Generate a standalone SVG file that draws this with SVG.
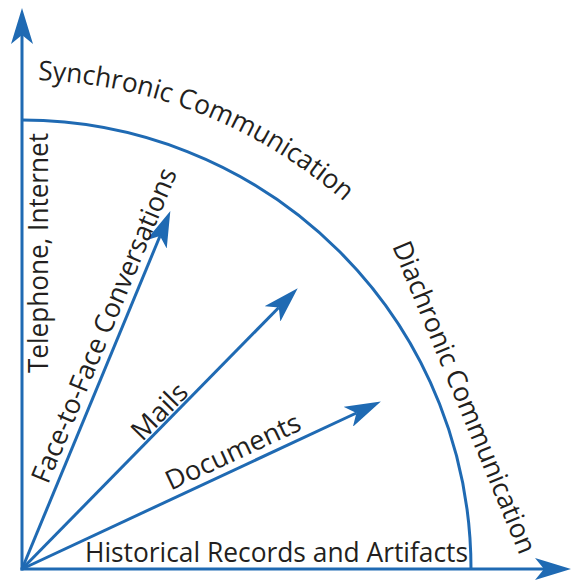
<svg xmlns="http://www.w3.org/2000/svg" width="573" height="581" viewBox="0 0 573 581">
  <style>
    .ln { stroke: #1f6ab3; stroke-width: 3; fill: none; }
    .lbl { font-family: "Open Sans", "Noto Sans", "Liberation Sans", sans-serif; font-size: 27px; fill: #231f20; }
  </style>
  <defs>
    <marker id="head" viewBox="0 0 36 22" refX="9" refY="11" markerWidth="36" markerHeight="22" markerUnits="userSpaceOnUse" orient="auto">
      <path d="M36,11 L0,0 L9,11 L0,22 Z" fill="#1f6ab3"/>
    </marker>
    <path id="syncArc" d="M 38 80 A 489 489 0 0 1 445 325.5"/>
  </defs>

  <!-- axes, boundary arc and rays -->
  <g id="connectors">
    <line id="axis-y" class="ln" x1="22" y1="570.5" x2="22" y2="35" marker-end="url(#head)"/>
    <line id="axis-x" class="ln" x1="20.5" y1="569" x2="544" y2="569" marker-end="url(#head)"/>
    <path id="boundary" class="ln" d="M 22 120 A 449 449 0 0 1 471 569"/>
    <line id="ray-face" class="ln" x1="22" y1="569" x2="160" y2="236" marker-end="url(#head)"/>
    <line id="ray-mails" class="ln" x1="22" y1="569" x2="278.8" y2="307.5" marker-end="url(#head)"/>
    <line id="ray-docs" class="ln" x1="22" y1="569" x2="356.4" y2="413" marker-end="url(#head)"/>
  </g>

  <g id="synchronic">
    <text class="lbl" textLength="336" lengthAdjust="spacingAndGlyphs"><textPath href="#syncArc">Synchronic Communication</textPath></text>
  </g>
  <g id="diachronic">
    <text class="lbl" transform="translate(392 246) rotate(67.6)" textLength="335" lengthAdjust="spacingAndGlyphs">Diachronic Communication</text>
  </g>
  <g id="telephone">
    <text class="lbl" transform="translate(48 373) rotate(-90)" textLength="240" lengthAdjust="spacingAndGlyphs">Telephone, Internet</text>
  </g>
  <g id="face">
    <text class="lbl" transform="translate(48 485) rotate(-67.5)" textLength="338" lengthAdjust="spacingAndGlyphs">Face-to-Face Conversations</text>
  </g>
  <g id="mails">
    <text class="lbl" text-anchor="middle" transform="translate(166 418) rotate(-45.5)" textLength="68" lengthAdjust="spacingAndGlyphs">Mails</text>
  </g>
  <g id="documents">
    <text class="lbl" text-anchor="middle" transform="translate(237 460) rotate(-25)" textLength="146" lengthAdjust="spacingAndGlyphs">Documents</text>
  </g>
  <g id="historical">
    <text class="lbl" x="85" y="562" textLength="383" lengthAdjust="spacingAndGlyphs">Historical Records and Artifacts</text>
  </g>
</svg>
